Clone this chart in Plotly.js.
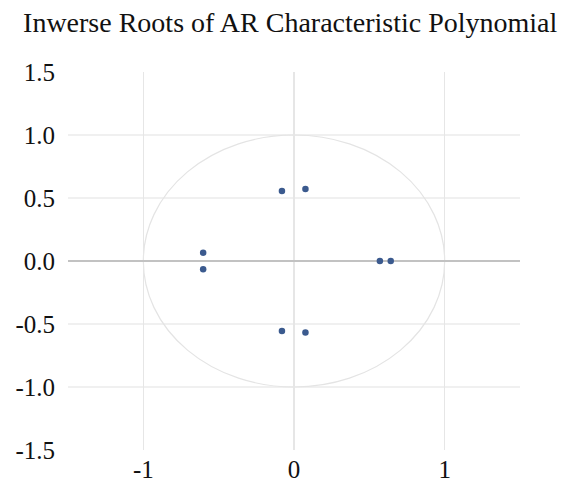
<!DOCTYPE html>
<html>
<head>
<meta charset="utf-8">
<script src="https://cdn.plot.ly/plotly-3.0.1.min.js"></script>
<style>html,body{margin:0;padding:0;background:#fff;}#chart{width:569px;height:483px;}</style>
</head>
<body>
<div id="chart"></div>
<script>
var rootReal = [-0.08, -0.08, 0.076, 0.076, -0.603, -0.603, 0.57, 0.642];
var rootImag = [0.556, -0.556, 0.572, -0.568, 0.066, -0.066, 0.0, 0.0];
var xTicks = [-1, 0, 1];
var yTicks = [-1.5, -1.0, -0.5, 0.0, 0.5, 1.0, 1.5];
var yGrid = [-1.0, -0.5, 0.5, 1.0];

var shapes = [{
  type: 'circle', xref: 'x', yref: 'y', x0: -1, x1: 1, y0: -1, y1: 1,
  line: {color: '#e4e4e4', width: 1.2}, layer: 'below'
}];
yGrid.forEach(function (v) {
  shapes.push({type: 'line', xref: 'paper', yref: 'y', x0: 0, x1: 1, y0: v, y1: v,
    line: {color: '#e2e2e2', width: 1.2}, layer: 'below'});
});

var trace = {
  x: rootReal, y: rootImag, type: 'scatter', mode: 'markers',
  marker: {color: '#3b5a8e', size: 6.5, symbol: 'circle'},
  hoverinfo: 'x+y'
};

var layout = {
  width: 569, height: 483,
  margin: {l: 68, r: 49, t: 72, b: 33},
  paper_bgcolor: '#ffffff', plot_bgcolor: '#ffffff',
  showlegend: false,
  title: {text: 'Inwerse Roots of AR Characteristic Polynomial',
    font: {family: 'Liberation Serif, Times New Roman, serif', size: 28, color: '#111'},
    x: 0.51, xanchor: 'center', y: 0.955, yanchor: 'middle'},
  xaxis: {range: [-1.5, 1.5], tickvals: xTicks, ticktext: xTicks.map(String),
    showgrid: true, gridcolor: '#e6e6e6', gridwidth: 1.2, zeroline: false,
    showline: false, ticks: '', ticklabelstandoff: 2,
    tickfont: {family: 'Liberation Serif, Times New Roman, serif', size: 25, color: '#111'}},
  yaxis: {range: [-1.5, 1.5], tickvals: yTicks, ticktext: yTicks.map(function (v) { return v.toFixed(1); }),
    showgrid: false, zeroline: true, zerolinecolor: '#c2c2c2', zerolinewidth: 1.2,
    showline: false, ticks: '', ticklabelstandoff: 12,
    tickfont: {family: 'Liberation Serif, Times New Roman, serif', size: 25, color: '#111'}},
  shapes: shapes
};

Plotly.newPlot('chart', [trace], layout, {displayModeBar: false, staticPlot: true});
</script>
</body>
</html>
